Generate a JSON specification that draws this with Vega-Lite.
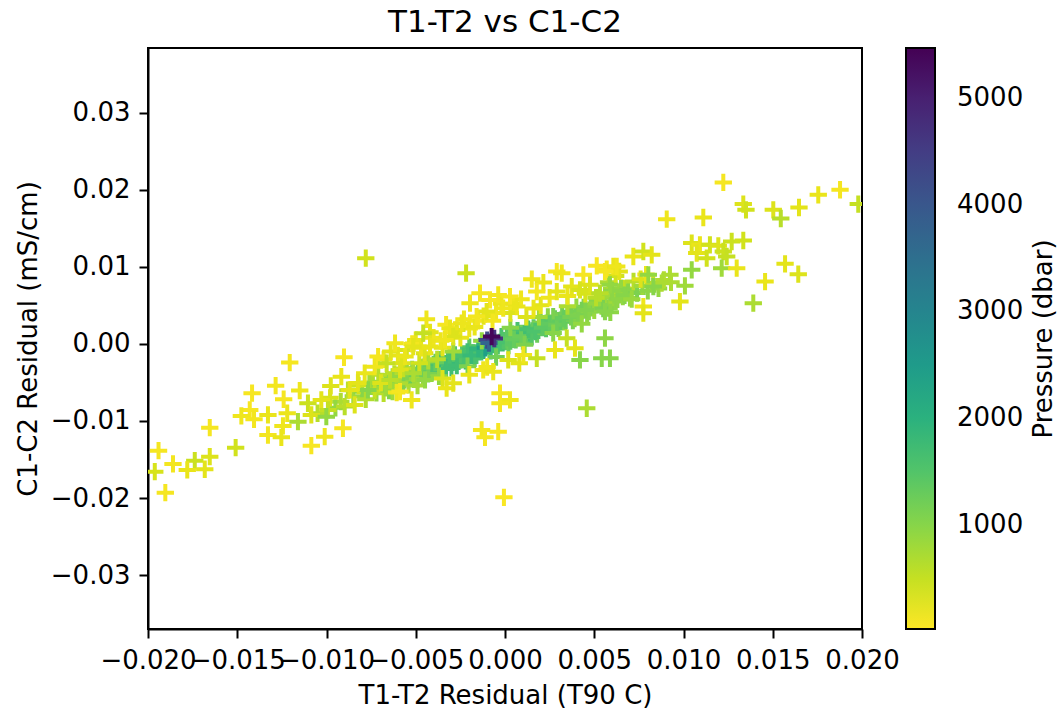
{
  "$schema": "https://vega.github.io/schema/vega-lite/v6.json",
  "width": 714,
  "height": 581,
  "autosize": {"type": "none"},
  "padding": {"left": 148, "top": 48, "right": 198, "bottom": 83},
  "background": "white",
  "title": {"text": "T1-T2 vs C1-C2", "fontSize": 31, "font": "DejaVu Sans", "fontWeight": "normal", "color": "black", "anchor": "middle", "frame": "group", "offset": 14, "baseline": "alphabetic", "dy": 29},
  "config": {
    "view": {"stroke": "black", "strokeWidth": 2},
    "axis": {"domainColor": "black", "domainWidth": 2, "tickColor": "black", "tickWidth": 2, "tickSize": 9, "labelFontSize": 26, "labelFont": "DejaVu Sans", "labelColor": "black", "labelPadding": 9, "titleFontSize": 26, "titleFont": "DejaVu Sans", "titleFontWeight": "normal", "titleColor": "black", "titlePadding": 9, "grid": false}
  },
  "data": {"values": [
    {"t":-0.0074,"c":-0.00514,"p":700},{"t":-0.0072,"c":-0.00636,"p":850},{"t":-0.0070,"c":-0.00539,"p":1000},{"t":-0.0068,"c":-0.00642,"p":600},
    {"t":-0.0066,"c":-0.00474,"p":900},{"t":-0.0064,"c":-0.00537,"p":1100},{"t":-0.0062,"c":-0.00389,"p":550},{"t":-0.0060,"c":-0.00552,"p":950},
    {"t":-0.0058,"c":-0.00455,"p":1200},{"t":-0.0056,"c":-0.00397,"p":800},{"t":-0.0054,"c":-0.00530,"p":700},{"t":-0.0052,"c":-0.00332,"p":1000},
    {"t":-0.0050,"c":-0.00425,"p":1300},{"t":-0.0048,"c":-0.00348,"p":1150},{"t":-0.0046,"c":-0.00440,"p":900},{"t":-0.0044,"c":-0.00243,"p":650},
    {"t":-0.0042,"c":-0.00335,"p":1400},{"t":-0.0040,"c":-0.00268,"p":1250},{"t":-0.0038,"c":-0.00351,"p":1600},{"t":-0.0036,"c":-0.00203,"p":1100},
    {"t":-0.0034,"c":-0.00276,"p":1500},{"t":-0.0032,"c":-0.00218,"p":1500},{"t":-0.0030,"c":-0.00311,"p":1700},{"t":-0.0028,"c":-0.00144,"p":1500},
    {"t":-0.0026,"c":-0.00226,"p":1600},{"t":-0.0024,"c":-0.00139,"p":1700},{"t":-0.0022,"c":-0.00221,"p":1900},{"t":-0.0020,"c":-0.00044,"p":1400},
    {"t":-0.0018,"c":-0.00117,"p":1400},{"t":-0.0016,"c":-0.00149,"p":1500},{"t":-0.0014,"c":-0.00032,"p":1500},{"t":-0.0012,"c":-0.00084,"p":2000},
    {"t":-0.0010,"c":-0.00027,"p":1900},{"t":-0.0008,"c":-0.00090,"p":1800},{"t":-0.0006,"c":0.00028,"p":1600},{"t":-0.0004,"c":-0.00025,"p":1500},
    {"t":-0.0002,"c":0.00093,"p":1600},{"t":0.0000,"c":0.00030,"p":1400},{"t":0.0002,"c":-0.00023,"p":1300},{"t":0.0004,"c":0.00125,"p":1400},
    {"t":0.0006,"c":0.00052,"p":1300},{"t":0.0008,"c":0.00130,"p":1500},{"t":0.0010,"c":0.00037,"p":1300},{"t":0.0012,"c":0.00224,"p":1200},
    {"t":0.0014,"c":0.00142,"p":1600},{"t":0.0016,"c":0.00209,"p":1400},{"t":0.0018,"c":0.00127,"p":1250},{"t":0.0020,"c":0.00274,"p":1100},
    {"t":0.0022,"c":0.00221,"p":1350},{"t":0.0024,"c":0.00349,"p":950},{"t":0.0026,"c":0.00216,"p":1200},{"t":0.0028,"c":0.00324,"p":1300},
    {"t":0.0030,"c":0.00201,"p":1000},{"t":0.0032,"c":0.00388,"p":1150},{"t":0.0034,"c":0.00306,"p":1250},{"t":0.0036,"c":0.00373,"p":1050},
    {"t":0.0038,"c":0.00301,"p":1100},{"t":0.0040,"c":0.00478,"p":900},{"t":0.0042,"c":0.00395,"p":1200},{"t":0.0044,"c":0.00473,"p":1000},
    {"t":0.0046,"c":0.00380,"p":950},{"t":0.0048,"c":0.00488,"p":1100},{"t":0.0050,"c":0.00435,"p":850},{"t":0.0052,"c":0.00562,"p":1000},
    {"t":0.0054,"c":0.00490,"p":900},{"t":0.0056,"c":0.00627,"p":750},{"t":0.0058,"c":0.00465,"p":1000},{"t":0.0060,"c":0.00602,"p":850},
    {"t":0.0062,"c":0.00549,"p":950},{"t":0.0064,"c":0.00667,"p":700},{"t":0.0066,"c":0.00614,"p":900},{"t":0.0068,"c":0.00662,"p":800},
    {"t":0.0070,"c":0.00599,"p":850},
    {"t":-0.0073,"c":-0.00605,"p":500},{"t":-0.0069,"c":-0.00490,"p":750},{"t":-0.0065,"c":-0.00606,"p":1050},{"t":-0.0061,"c":-0.00451,"p":650},
    {"t":-0.0057,"c":-0.00496,"p":1100},{"t":-0.0053,"c":-0.00401,"p":1250},{"t":-0.0049,"c":-0.00456,"p":1000},{"t":-0.0045,"c":-0.00292,"p":1350},
    {"t":-0.0041,"c":-0.00367,"p":1500},{"t":-0.0037,"c":-0.00252,"p":1800},{"t":-0.0033,"c":-0.00327,"p":1700},{"t":-0.0029,"c":-0.00192,"p":1800},
    {"t":-0.0025,"c":-0.00208,"p":1500},{"t":-0.0021,"c":-0.00103,"p":1700},{"t":-0.0017,"c":-0.00188,"p":1600},{"t":-0.0013,"c":-0.00073,"p":1800},
    {"t":-0.0009,"c":0.00022,"p":2200},{"t":-0.0005,"c":-0.00073,"p":1700},{"t":-0.0001,"c":0.00041,"p":1500},{"t":0.0003,"c":0.00036,"p":1400},
    {"t":0.0007,"c":0.00171,"p":1600},{"t":0.0011,"c":0.00126,"p":1700},{"t":0.0015,"c":0.00091,"p":1500},{"t":0.0019,"c":0.00255,"p":1300},
    {"t":0.0023,"c":0.00200,"p":1450},{"t":0.0027,"c":0.00355,"p":1100},{"t":0.0031,"c":0.00290,"p":1350},{"t":0.0035,"c":0.00395,"p":1200},
    {"t":0.0039,"c":0.00329,"p":1050},{"t":0.0043,"c":0.00434,"p":1150},{"t":0.0047,"c":0.00419,"p":1000},{"t":0.0051,"c":0.00524,"p":900},
    {"t":0.0055,"c":0.00459,"p":1100},{"t":0.0059,"c":0.00613,"p":800},{"t":0.0063,"c":0.00578,"p":950},{"t":0.0067,"c":0.00713,"p":650},
    {"t":-0.0039,"c":-0.00240,"p":1300},{"t":-0.0031,"c":-0.00170,"p":1600},{"t":-0.0027,"c":-0.00280,"p":1700},{"t":-0.0023,"c":-0.00160,"p":1600},
    {"t":-0.0019,"c":-0.00150,"p":1800},{"t":-0.0015,"c":-0.00060,"p":1900},{"t":-0.0011,"c":-0.00050,"p":2400},{"t":-0.0007,"c":-0.00010,"p":1800},
    {"t":-0.0003,"c":0.00020,"p":1600},{"t":0.0001,"c":0.00080,"p":1400},{"t":0.0005,"c":0.00060,"p":1300},{"t":0.0009,"c":0.00100,"p":1250},
    {"t":0.0013,"c":0.00190,"p":1600},{"t":0.0017,"c":0.00160,"p":1550},{"t":0.0021,"c":0.00210,"p":1400},{"t":0.0025,"c":0.00260,"p":1350},
    {"t":0.0029,"c":0.00250,"p":1250},{"t":0.0033,"c":0.00330,"p":1300},{"t":0.0037,"c":0.00350,"p":1150},{"t":0.0041,"c":0.00370,"p":1100},
    {"t":0.0045,"c":0.00440,"p":1050},{"t":-0.0043,"c":-0.00390,"p":1100},{"t":-0.0047,"c":-0.00320,"p":1200},{"t":-0.0051,"c":-0.00460,"p":850},
    {"t":-0.0055,"c":-0.00360,"p":1050},{"t":-0.0059,"c":-0.00510,"p":700},{"t":-0.0063,"c":-0.00430,"p":900},{"t":-0.0067,"c":-0.00570,"p":800},
    {"t":-0.0071,"c":-0.00400,"p":600},{"t":-0.0063,"c":-0.00620,"p":800},{"t":-0.0057,"c":-0.00320,"p":500},{"t":-0.0049,"c":-0.00540,"p":750},
    {"t":-0.0043,"c":-0.00220,"p":700},{"t":-0.0037,"c":-0.00420,"p":900},{"t":-0.0029,"c":-0.00100,"p":800},{"t":-0.0021,"c":-0.00290,"p":1100},
    {"t":-0.0013,"c":0.00040,"p":900},{"t":-0.0005,"c":-0.00170,"p":1200},{"t":0.0003,"c":0.00210,"p":1000},{"t":0.0011,"c":-0.00010,"p":1100},
    {"t":0.0019,"c":0.00350,"p":800},{"t":0.0027,"c":0.00140,"p":1000},{"t":0.0035,"c":0.00490,"p":700},{"t":0.0043,"c":0.00260,"p":900},
    {"t":0.0051,"c":0.00600,"p":600},{"t":0.0059,"c":0.00410,"p":950},{"t":0.0066,"c":0.00720,"p":500},
    {"t":-0.0085,"c":-0.00680,"p":800},{"t":-0.0080,"c":-0.00620,"p":1000},{"t":-0.0078,"c":-0.00720,"p":650},{"t":-0.0092,"c":-0.00750,"p":700},
    {"t":-0.0088,"c":-0.00600,"p":550},{"t":-0.0095,"c":-0.00830,"p":900},{"t":-0.0082,"c":-0.00540,"p":400},{"t":-0.0076,"c":-0.00500,"p":750},
    {"t":-0.0105,"c":-0.00900,"p":600},{"t":-0.0098,"c":-0.00700,"p":350},
    {"t":0.0058,"c":0.00800,"p":700},{"t":0.0062,"c":0.00880,"p":400},{"t":0.0065,"c":0.00720,"p":900},{"t":0.0069,"c":0.00700,"p":1000},
    {"t":0.0072,"c":0.00810,"p":600},{"t":0.0074,"c":0.00660,"p":1100},{"t":0.0077,"c":0.00750,"p":800},{"t":0.0080,"c":0.00690,"p":950},
    {"t":0.0083,"c":0.00790,"p":500},{"t":0.0086,"c":0.00720,"p":900},{"t":0.0067,"c":0.00630,"p":1000},{"t":0.0071,"c":0.00580,"p":850},
    {"t":0.0076,"c":0.00840,"p":300},{"t":0.0079,"c":0.00900,"p":200},{"t":0.0089,"c":0.00830,"p":650},{"t":0.0093,"c":0.00800,"p":700},
    {"t":0.0060,"c":0.00690,"p":950},{"t":0.0064,"c":0.00940,"p":250},
    {"t":-0.0050,"c":0.00050,"p":200},{"t":-0.0045,"c":-0.00120,"p":300},{"t":-0.0040,"c":0.00080,"p":150},{"t":-0.0035,"c":-0.00050,"p":250},
    {"t":-0.0030,"c":0.00150,"p":120},{"t":-0.0025,"c":0.00080,"p":200},{"t":-0.0020,"c":0.00200,"p":180},{"t":-0.0055,"c":-0.00080,"p":350},
    {"t":-0.0060,"c":-0.00150,"p":220},{"t":-0.0048,"c":-0.00250,"p":400},{"t":-0.0038,"c":-0.00200,"p":600},{"t":-0.0015,"c":0.00300,"p":100},
    {"t":-0.0005,"c":0.00400,"p":150},{"t":0.0005,"c":0.00520,"p":200},{"t":0.0012,"c":0.00350,"p":300},{"t":0.0020,"c":0.00500,"p":250},
    {"t":0.0025,"c":0.00600,"p":150},{"t":0.0035,"c":0.00620,"p":200},{"t":0.0045,"c":0.00650,"p":350},
    {"t":-0.0068,"c":-0.00200,"p":150},{"t":-0.0064,"c":-0.00100,"p":250},{"t":-0.0058,"c":-0.00250,"p":300},{"t":-0.0052,"c":0.00000,"p":120},
    {"t":-0.0047,"c":-0.00050,"p":200},{"t":-0.0042,"c":0.00150,"p":250},{"t":-0.0036,"c":0.00040,"p":180},{"t":-0.0033,"c":0.00250,"p":100},
    {"t":-0.0027,"c":0.00180,"p":300},{"t":-0.0023,"c":0.00320,"p":150},{"t":-0.0017,"c":0.00220,"p":200},{"t":-0.0012,"c":0.00360,"p":250},
    {"t":-0.0007,"c":0.00300,"p":120},{"t":-0.0002,"c":0.00520,"p":180},{"t":0.0003,"c":0.00400,"p":300},{"t":0.0009,"c":0.00580,"p":150},
    {"t":0.0016,"c":0.00460,"p":200},{"t":-0.0044,"c":0.00320,"p":150},
    {"t":-0.0020,"c":-0.00400,"p":200},{"t":-0.0035,"c":-0.00450,"p":300},{"t":0.0008,"c":-0.00250,"p":250},{"t":-0.0010,"c":-0.00300,"p":150},
    {"t":-0.01206,"c":-0.00243,"p":100},{"t":-0.00902,"c":-0.00173,"p":80},{"t":-0.01285,"c":-0.00542,"p":120},{"t":-0.01417,"c":-0.00640,"p":90},
    {"t":-0.01150,"c":-0.00606,"p":150},{"t":-0.01240,"c":-0.00718,"p":100},{"t":-0.00917,"c":-0.00425,"p":200},{"t":-0.00976,"c":-0.00545,"p":300},
    {"t":-0.00870,"c":-0.00597,"p":250},{"t":-0.01430,"c":-0.00857,"p":80},{"t":-0.01477,"c":-0.00935,"p":150},{"t":-0.01406,"c":-0.00978,"p":120},
    {"t":-0.01328,"c":-0.00922,"p":200},{"t":-0.01220,"c":-0.00900,"p":180},{"t":-0.01160,"c":-0.01009,"p":700},{"t":-0.01104,"c":-0.00770,"p":450},
    {"t":-0.01085,"c":-0.00922,"p":300},{"t":-0.01029,"c":-0.00727,"p":250},{"t":-0.00992,"c":-0.00857,"p":500},{"t":-0.00898,"c":-0.00814,"p":600},
    {"t":-0.00842,"c":-0.00792,"p":300},{"t":-0.01001,"c":-0.00944,"p":900},{"t":-0.01654,"c":-0.01087,"p":100},{"t":-0.01244,"c":-0.01065,"p":150},
    {"t":-0.01328,"c":-0.01182,"p":120},{"t":-0.01253,"c":-0.01212,"p":200},{"t":-0.00908,"c":-0.01095,"p":100},{"t":-0.01010,"c":-0.01204,"p":150},
    {"t":-0.01085,"c":-0.01321,"p":80},{"t":-0.01509,"c":-0.01347,"p":400},{"t":-0.01941,"c":-0.01386,"p":100},{"t":-0.01860,"c":-0.01558,"p":120},
    {"t":-0.01738,"c":-0.01516,"p":450},{"t":-0.01654,"c":-0.01464,"p":300},{"t":-0.01780,"c":-0.01636,"p":200},{"t":-0.01682,"c":-0.01627,"p":250},
    {"t":-0.01962,"c":-0.01658,"p":350},{"t":-0.01903,"c":-0.01931,"p":100},{"t":-0.00768,"c":-0.00597,"p":1000},{"t":-0.00730,"c":-0.00295,"p":150},
    {"t":-0.00786,"c":-0.00381,"p":200},{"t":-0.00695,"c":-0.00506,"p":300},{"t":-0.00824,"c":-0.00506,"p":250},{"t":-0.00780,"c":0.01113,"p":400},
    {"t":-0.00711,"c":-0.00165,"p":100},{"t":-0.00607,"c":-0.00632,"p":150},
    {"t":-0.00218,"c":0.00918,"p":450},{"t":0.00150,"c":0.00840,"p":150},{"t":0.00215,"c":0.00796,"p":200},{"t":0.00178,"c":0.00679,"p":120},
    {"t":0.00290,"c":0.00939,"p":100},{"t":0.00318,"c":0.00918,"p":150},{"t":0.00290,"c":0.00679,"p":250},{"t":0.00439,"c":0.00896,"p":100},
    {"t":0.00514,"c":0.01013,"p":80},{"t":0.00570,"c":0.00970,"p":120},{"t":0.00607,"c":0.01004,"p":200},{"t":0.00476,"c":0.00766,"p":300},
    {"t":0.00374,"c":0.00744,"p":250},{"t":0.00420,"c":0.00701,"p":350},{"t":0.00588,"c":0.00766,"p":900},{"t":0.00532,"c":0.00658,"p":600},
    {"t":-0.00140,"c":0.00658,"p":100},{"t":-0.00196,"c":0.00529,"p":150},{"t":-0.00084,"c":0.00571,"p":80},{"t":-0.00038,"c":0.00636,"p":120},
    {"t":0.00028,"c":0.00614,"p":100},{"t":0.00066,"c":0.00484,"p":200},{"t":-0.00010,"c":0.00464,"p":150},{"t":-0.00103,"c":0.00419,"p":250},
    {"t":-0.00159,"c":0.00355,"p":120},{"t":-0.00243,"c":0.00269,"p":180},{"t":-0.00308,"c":0.00204,"p":200},{"t":-0.00290,"c":0.00095,"p":300},
    {"t":-0.00336,"c":0.00052,"p":150},{"t":-0.00458,"c":0.00139,"p":500},{"t":-0.00514,"c":-0.00035,"p":250},{"t":-0.00420,"c":-0.00035,"p":200},
    {"t":-0.00616,"c":0.00009,"p":150},{"t":-0.00663,"c":-0.00251,"p":500},{"t":-0.00560,"c":-0.00165,"p":200},{"t":-0.00588,"c":-0.00338,"p":300},
    {"t":-0.00644,"c":-0.00468,"p":600},{"t":-0.00514,"c":-0.00381,"p":700},{"t":-0.00448,"c":-0.00468,"p":900},{"t":-0.00588,"c":-0.00619,"p":100},
    {"t":-0.00523,"c":-0.00727,"p":150},{"t":-0.00327,"c":-0.00575,"p":200},{"t":-0.00290,"c":-0.00510,"p":250},{"t":-0.00122,"c":-0.00338,"p":150},
    {"t":-0.00066,"c":-0.00360,"p":200},{"t":0.00018,"c":-0.00208,"p":300},{"t":0.00103,"c":-0.00143,"p":150},{"t":0.00178,"c":-0.00186,"p":500},
    {"t":0.00280,"c":-0.00078,"p":200},{"t":0.00346,"c":0.00074,"p":500},{"t":0.00392,"c":-0.00056,"p":250},{"t":0.00420,"c":-0.00208,"p":1000},
    {"t":0.00542,"c":-0.00186,"p":1000},{"t":0.00588,"c":-0.00186,"p":1000},{"t":0.00560,"c":0.00074,"p":950},{"t":0.00458,"c":-0.00835,"p":700},
    {"t":-0.00028,"c":-0.00640,"p":100},{"t":0.00028,"c":-0.00727,"p":150},{"t":-0.00028,"c":-0.00770,"p":100},{"t":-0.00131,"c":-0.01117,"p":120},
    {"t":-0.00038,"c":-0.01139,"p":80},{"t":-0.00112,"c":-0.01212,"p":100},{"t":-0.00006,"c":-0.01991,"p":60},
    {"t":0.01223,"c":0.02095,"p":100},{"t":0.00906,"c":0.01619,"p":150},{"t":0.01111,"c":0.01640,"p":200},{"t":0.01335,"c":0.01814,"p":300},
    {"t":0.01350,"c":0.01740,"p":400},{"t":0.01503,"c":0.01740,"p":300},{"t":0.01545,"c":0.01627,"p":600},{"t":0.01647,"c":0.01770,"p":250},
    {"t":0.01755,"c":0.01935,"p":200},{"t":0.01877,"c":0.02000,"p":100},{"t":0.01979,"c":0.01814,"p":500},{"t":0.01046,"c":0.01308,"p":300},
    {"t":0.01092,"c":0.01286,"p":200},{"t":0.01148,"c":0.01286,"p":400},{"t":0.01195,"c":0.01273,"p":300},{"t":0.01270,"c":0.01329,"p":450},
    {"t":0.01335,"c":0.01342,"p":400},{"t":0.01074,"c":0.01178,"p":250},{"t":0.01130,"c":0.01113,"p":400},{"t":0.01223,"c":0.01199,"p":450},
    {"t":0.01242,"c":0.01134,"p":500},{"t":0.01214,"c":0.00983,"p":800},{"t":0.01298,"c":0.00983,"p":200},{"t":0.01046,"c":0.00961,"p":900},
    {"t":0.00719,"c":0.01134,"p":200},{"t":0.00775,"c":0.01199,"p":400},{"t":0.00822,"c":0.01156,"p":250},{"t":0.01569,"c":0.01039,"p":250},
    {"t":0.01643,"c":0.00905,"p":300},{"t":0.01457,"c":0.00809,"p":200},{"t":0.01391,"c":0.00529,"p":700},{"t":0.00980,"c":0.00549,"p":250},
    {"t":0.01008,"c":0.00753,"p":800},{"t":0.00924,"c":0.00896,"p":700},{"t":0.00803,"c":0.00896,"p":900},{"t":0.00878,"c":0.00788,"p":700},
    {"t":0.00775,"c":0.00484,"p":150},{"t":0.00775,"c":0.00399,"p":250},{"t":0.00831,"c":0.00744,"p":1000},{"t":0.00560,"c":0.00939,"p":100},
    {"t":0.00626,"c":0.01004,"p":150},{"t":0.00560,"c":0.00419,"p":1000},
    {"t":-0.0010,"c":0.00050,"p":4300},{"t":-0.0009,"c":0.00010,"p":3700},{"t":-0.0006,"c":0.00070,"p":4700},{"t":-0.00075,"c":0.00095,"p":5400}
  ]},
  "mark": {"type": "point", "shape": "M-1,0L1,0M0,-1L0,1", "filled": false, "strokeWidth": 4, "size": 300, "opacity": 1, "clip": true},
  "encoding": {
    "x": {"field": "t", "type": "quantitative", "scale": {"domain": [-0.02, 0.02], "nice": false, "zero": false},
      "axis": {"title": "T1-T2 Residual (T90 C)", "values": [-0.02, -0.015, -0.01, -0.005, 0, 0.005, 0.01, 0.015, 0.02], "format": ".3f", "labelOverlap": false, "labelFlush": false}},
    "y": {"field": "c", "type": "quantitative", "scale": {"domain": [-0.0370, 0.0384], "nice": false, "zero": false},
      "axis": {"title": "C1-C2 Residual (mS/cm)", "values": [-0.03, -0.02, -0.01, 0, 0.01, 0.02, 0.03], "format": ".2f", "labelOverlap": false, "labelFlush": false}},
    "color": {"field": "p", "type": "quantitative", "scale": {"scheme": "viridis", "reverse": true, "domain": [26, 5468]},
      "legend": {"orient": "none", "legendX": 758, "legendY": 0, "direction": "vertical", "gradientLength": 581, "gradientThickness": 29,
        "gradientStrokeColor": "black", "gradientStrokeWidth": 2, "values": [1000, 2000, 3000, 4000, 5000], "format": "d",
        "labelFontSize": 26, "labelFont": "DejaVu Sans", "labelColor": "black", "labelOffset": 22, "labelOverlap": false,
        "title": "Pressure (dbar)", "titleOrient": "right", "titleLimit": 800, "titleFontSize": 26, "titleFont": "DejaVu Sans",
        "titleFontWeight": "normal", "titleColor": "black", "titleAnchor": "middle", "titlePadding": 8, "padding": 0,
        "encoding": {"title": {"angle": {"value": -90}, "baseline": {"value": "top"}}}}}
  }
}
